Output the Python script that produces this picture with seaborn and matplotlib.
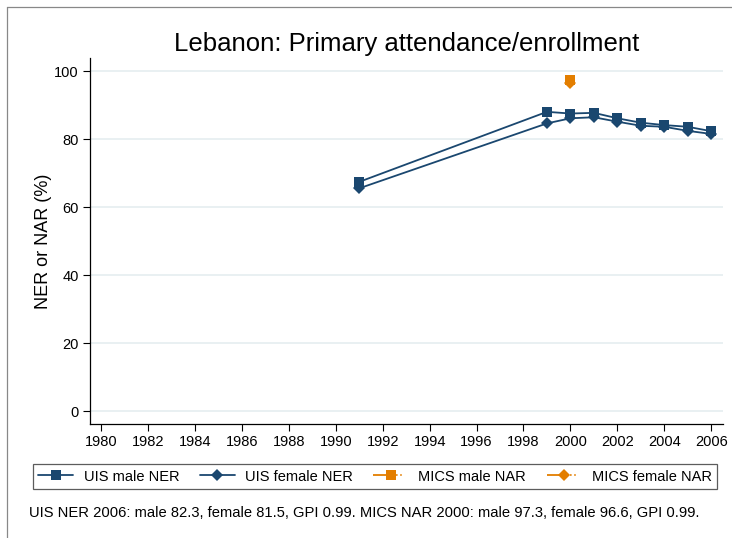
import pandas as pd
import numpy as np
import matplotlib
matplotlib.use("Agg")
import matplotlib.pyplot as plt
import seaborn as sns
from matplotlib.lines import Line2D

# 数据
uis_years = [1991, 1999, 2000, 2001, 2002, 2003, 2004, 2005, 2006]
uis_male = [67.4, 88.0, 87.5, 87.7, 86.1, 84.8, 84.1, 83.6, 82.3]
uis_female = [65.5, 84.6, 86.1, 86.4, 85.1, 83.9, 83.6, 82.4, 81.5]
mics_years = [2000]
mics_male = [97.3]
mics_female = [96.6]
x_ticks = list(range(1980, 2007, 2))
y_ticks = [0, 20, 40, 60, 80, 100]
series_names = ["UIS male NER", "UIS female NER", "MICS male NAR", "MICS female NAR"]
note = "UIS NER 2006: male 82.3, female 81.5, GPI 0.99. MICS NAR 2000: male 97.3, female 96.6, GPI 0.99."

navy = "#1a476f"
orange = "#e37e00"

sns.set_style("white")
plt.rcParams['font.family'] = ['Liberation Sans', 'DejaVu Sans']
plt.rcParams['text.color'] = 'black'
plt.rcParams['axes.labelcolor'] = 'black'
plt.rcParams['xtick.color'] = 'black'
plt.rcParams['ytick.color'] = 'black'

df = pd.concat([
    pd.DataFrame({"year": uis_years, "value": uis_male, "series": series_names[0]}),
    pd.DataFrame({"year": uis_years, "value": uis_female, "series": series_names[1]}),
    pd.DataFrame({"year": mics_years, "value": mics_male, "series": series_names[2]}),
    pd.DataFrame({"year": mics_years, "value": mics_female, "series": series_names[3]}),
])

colors = {series_names[0]: navy, series_names[1]: navy, series_names[2]: orange, series_names[3]: orange}
markers = {series_names[0]: "s", series_names[1]: "D", series_names[2]: "s", series_names[3]: "D"}

fig = plt.figure(figsize=(7.32, 5.38), dpi=100)
ax = fig.add_axes([0.123, 0.212, 0.865, 0.680])

for name in series_names:
    sub = df[df["series"] == name]
    sns.lineplot(data=sub, x="year", y="value", ax=ax, color=colors[name],
                 marker=markers[name], markersize=7 if markers[name] == "s" else 6.5,
                 markeredgewidth=0, linewidth=1.3, legend=False)

ax.set_xlim(1979.53, 2006.51)
ax.set_ylim(-3.8, 103.8)
ax.set_xticks(x_ticks)
ax.set_yticks(y_ticks)
ax.tick_params(axis="both", direction="out", length=5, width=0.8, color="black",
               labelcolor="black", labelsize=10.5, pad=3, left=True, bottom=True)
ax.grid(axis="y", color="#e5eef0", linewidth=1.2)
ax.grid(axis="x", visible=False)
for side in ["top", "right"]:
    ax.spines[side].set_visible(False)
for side in ["left", "bottom"]:
    ax.spines[side].set_color("black")
    ax.spines[side].set_linewidth(0.9)
ax.set_xlabel("")
ax.set_ylabel("NER or NAR (%)", fontsize=13, labelpad=2, color="black")
ax.set_title("Lebanon: Primary attendance/enrollment", fontsize=18.5, pad=5, color="black")

# 图例
dash_pat = (9, 1.5, 0.8, 1.5, 0.8, 1.5, 0.8, 10)
handles = [
    Line2D([], [], color=navy, marker="s", markersize=7, markeredgewidth=0, linewidth=1.3),
    Line2D([], [], color=navy, marker="D", markersize=6.5, markeredgewidth=0, linewidth=1.3),
    Line2D([], [], color=orange, marker="s", markersize=7, markeredgewidth=0, linewidth=1.3, dashes=dash_pat),
    Line2D([], [], color=orange, marker="D", markersize=6.5, markeredgewidth=0, linewidth=1.3, dashes=dash_pat),
]
leg = fig.legend(handles, series_names, loc="center", bbox_to_anchor=(0.5125, 0.114), ncol=4,
                 fontsize=10.5, frameon=True, fancybox=False, edgecolor="#333333",
                 handlelength=2.4, handleheight=1.1, handletextpad=0.7, columnspacing=1.4,
                 borderpad=0.35, borderaxespad=0)
leg.get_frame().set_linewidth(0.9)
for t in leg.get_texts():
    t.set_color("black")

fig.text(0.040, 0.046, note, fontsize=10.6, ha="left", va="center", color="black")

# 外框
fig.add_artist(Line2D([0.0096, 0.0096], [0, 0.987], transform=fig.transFigure, color="#888888", linewidth=0.9))
fig.add_artist(Line2D([0.0096, 1.0], [0.987, 0.987], transform=fig.transFigure, color="#888888", linewidth=0.9))

fig.savefig("out.png", dpi=100)
